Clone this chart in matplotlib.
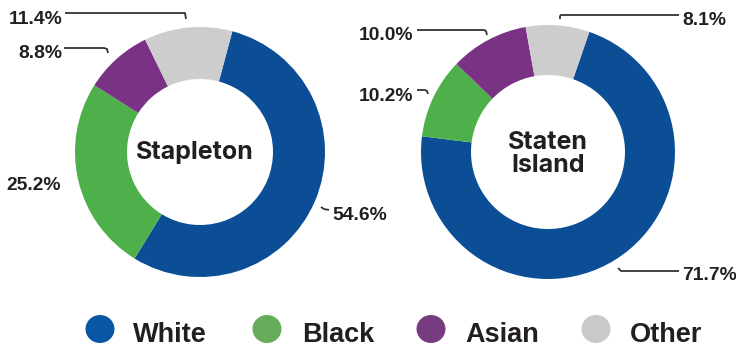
import matplotlib.pyplot as plt
from matplotlib.patches import Ellipse

W, H = 736, 349

groups = ["White", "Black", "Asian", "Other"]
colors = ["#0c4e96", "#4db04a", "#7a3384", "#cdcdcd"]
legend_colors = ["#0a56a6", "#66ac5a", "#763b80", "#c9c9c9"]

stapleton = [54.6, 25.2, 8.8, 11.4]
staten_island = [71.7, 10.2, 10.0, 8.1]

ink = "#231f20"
num_font = {"family": "Liberation Sans", "weight": "bold", "size": 13.9, "color": ink}


def py(y):
    # pixel row (from top) -> data y
    return H - y


fig = plt.figure(figsize=(W / 100, H / 100), dpi=100)
ax = fig.add_axes([0, 0, 1, 1])

# donuts
ax.pie(stapleton, colors=colors, startangle=75, counterclock=False,
       radius=125, center=(200, py(152)),
       wedgeprops={"width": 52, "linewidth": 0})
ax.pie(staten_island, colors=colors, startangle=71, counterclock=False,
       radius=127, center=(548, py(152)),
       wedgeprops={"width": 50, "linewidth": 0})

ax.set_xlim(0, W)
ax.set_ylim(0, H)
ax.set_aspect("auto")
ax.axis("off")

center_font = {"family": "Inter", "weight": "bold", "size": 18, "color": ink}
ax.text(195, py(159), "Stapleton", ha="center", va="baseline", **center_font)
ax.text(548, py(149), "Staten", ha="center", va="baseline", **center_font)
ax.text(548, py(172), "Island", ha="center", va="baseline", **center_font)

# value labels: (value, x, baseline, align)
s_lab = [(stapleton[0], 332, 220, "left"), (stapleton[1], 61, 190, "right"),
         (stapleton[2], 62, 58, "right"), (stapleton[3], 62, 24, "right")]
si_lab = [(staten_island[0], 682, 280, "left"), (staten_island[1], 413, 101, "right"),
          (staten_island[2], 413, 40, "right"), (staten_island[3], 682, 25, "left")]
for v, x, yb, ha in s_lab + si_lab:
    ax.text(x, py(yb), f"{v:.1f}%", ha=ha, va="baseline", **num_font)

# leader lines
leaders = [
    ([65, 185, 186], [13, 13, 19]),
    ([64, 104, 107, 108], [48, 48, 49, 53]),
    ([321, 324, 329], [207, 209, 210]),
    ([417, 484, 486, 487], [30, 30, 31, 35]),
    ([417, 425, 427, 428], [90, 90, 91, 94]),
    ([560, 560, 561, 679], [19, 16, 15, 15]),
    ([618, 621, 679], [268, 271, 271]),
]
for xs, ys in leaders:
    ax.plot(xs, [py(y) for y in ys], color="#333333", lw=1.3,
            solid_capstyle="butt", solid_joinstyle="round")

# legend
leg_x = [100, 267, 431, 596]
txt_x = [133, 302, 465, 630]
for g, c, cx, tx in zip(groups, legend_colors, leg_x, txt_x):
    ax.add_patch(Ellipse((cx, py(329)), 29, 28, color=c, lw=0))
    ax.text(tx, py(342), g, ha="left", va="baseline", family="Liberation Sans",
            weight="bold", size=19.5, color=ink)

fig.savefig("out.png", dpi=100)
